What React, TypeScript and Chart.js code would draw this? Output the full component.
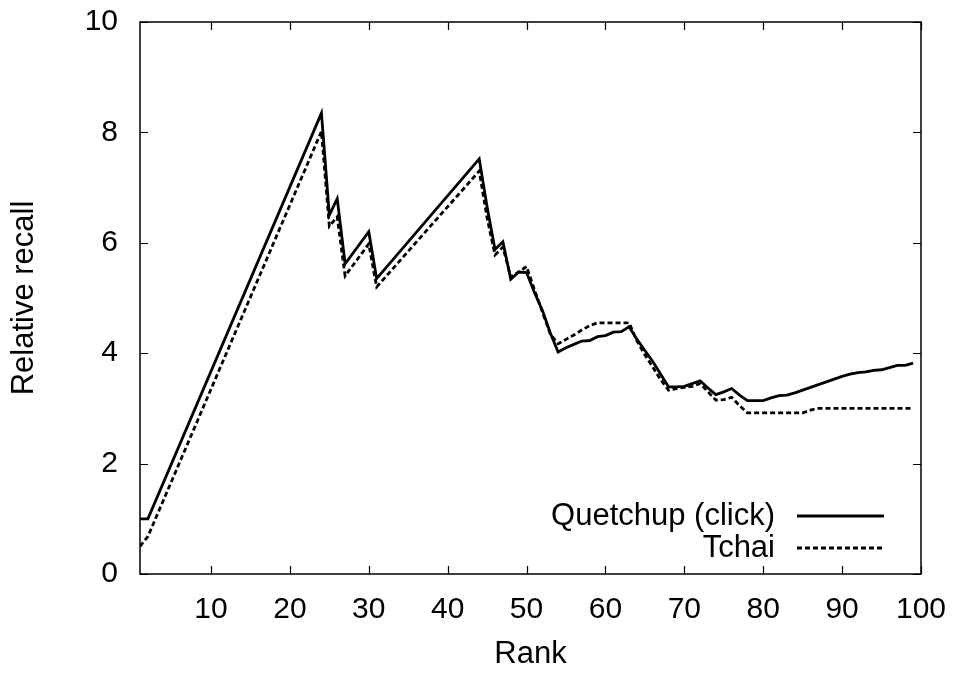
import { useEffect, useRef } from 'react';
import { Chart, registerables } from 'chart.js';

Chart.register(...registerables);

const quetchupRank = [1, 2, 24, 25, 26, 27, 30, 31, 44, 45, 46, 47, 48, 49, 50, 51, 52, 53, 54, 55, 56, 57, 58, 59, 60, 61, 62, 63, 64, 65, 66, 67, 68, 69, 70, 71, 72, 73, 74, 75, 76, 77, 78, 79, 80, 81, 82, 83, 84, 85, 86, 87, 88, 89, 90, 91, 92, 93, 94, 95, 96, 97, 98, 99];
const quetchupRecall = [1.0, 1.0, 8.35, 6.5, 6.8, 5.62, 6.2, 5.35, 7.52, 6.65, 5.88, 6.02, 5.34, 5.47, 5.46, 5.1, 4.78, 4.37, 4.02, 4.1, 4.16, 4.22, 4.23, 4.3, 4.32, 4.38, 4.39, 4.48, 4.25, 4.05, 3.85, 3.62, 3.39, 3.39, 3.4, 3.45, 3.5, 3.37, 3.25, 3.3, 3.36, 3.24, 3.14, 3.14, 3.14, 3.19, 3.23, 3.24, 3.28, 3.33, 3.38, 3.43, 3.48, 3.53, 3.58, 3.62, 3.65, 3.66, 3.69, 3.7, 3.74, 3.78, 3.78, 3.82];

const tchaiRank = [1, 2, 24, 25, 26, 27, 30, 31, 44, 45, 46, 47, 48, 49, 50, 51, 52, 53, 54, 55, 56, 57, 58, 59, 60, 61, 62, 63, 64, 65, 66, 67, 68, 69, 70, 71, 72, 73, 74, 75, 76, 77, 78, 85, 86, 87, 99];
const tchaiRecall = [0.5, 0.68, 8.02, 6.3, 6.47, 5.4, 5.98, 5.2, 7.3, 6.45, 5.78, 5.92, 5.38, 5.47, 5.57, 5.15, 4.75, 4.35, 4.17, 4.25, 4.33, 4.42, 4.5, 4.55, 4.55, 4.55, 4.55, 4.55, 4.22, 3.97, 3.75, 3.52, 3.33, 3.36, 3.38, 3.4, 3.45, 3.3, 3.15, 3.16, 3.2, 3.05, 2.92, 2.92, 2.97, 3.0, 3.0];

const xTicks = [10, 20, 30, 40, 50, 60, 70, 80, 90, 100];
const yTicks = [0, 2, 4, 6, 8, 10];

const seriesNames = ['Quetchup (click)', 'Tchai'];
const FONT = 'Arial, "Liberation Sans", Helvetica, sans-serif';
const TICK_FS = 30;
const TITLE_FS = 31;
const LEGEND_FS = 31;

const framePlugin = {
  id: 'frame',
  afterDatasetsDraw(chart: any) {
    const { ctx, chartArea: a, scales } = chart;
    ctx.save();
    ctx.strokeStyle = '#000';
    ctx.lineWidth = 1.5;
    ctx.strokeRect(a.left, a.top, a.right - a.left, a.bottom - a.top);
    const tl = 8;
    ctx.lineWidth = 1.2;
    ctx.beginPath();
    for (const v of xTicks) {
      const px = Math.round(scales.x.getPixelForValue(v)) + 0.5;
      ctx.moveTo(px, a.bottom);
      ctx.lineTo(px, a.bottom - tl);
      ctx.moveTo(px, a.top);
      ctx.lineTo(px, a.top + tl);
    }
    for (const v of yTicks) {
      const py = Math.round(scales.y.getPixelForValue(v)) + 0.5;
      ctx.moveTo(a.left, py);
      ctx.lineTo(a.left + tl, py);
      ctx.moveTo(a.right, py);
      ctx.lineTo(a.right - tl, py);
    }
    ctx.stroke();

    // legend (inside, bottom right)
    const rows = [a.bottom - 58, a.bottom - 26];
    const textRight = a.right - 146;
    const lineL = a.right - 124;
    const lineR = a.right - 37;
    ctx.font = `${LEGEND_FS}px ${FONT}`;
    ctx.fillStyle = '#000';
    ctx.textAlign = 'right';
    ctx.textBaseline = 'middle';
    chart.data.datasets.forEach((ds: any, i: number) => {
      const y = rows[i];
      ctx.fillText(seriesNames[i], textRight, y);
      ctx.beginPath();
      ctx.lineWidth = ds.borderWidth;
      ctx.setLineDash(ds.borderDash || []);
      ctx.moveTo(lineL, y);
      ctx.lineTo(lineR, y);
      ctx.stroke();
      ctx.setLineDash([]);
    });
    ctx.restore();
  },
};

export default function App() {
  const ref = useRef<HTMLCanvasElement | null>(null);
  useEffect(() => {
    if (!ref.current) return;
    const chart = new Chart(ref.current, {
      type: 'line',
      data: {
        datasets: [
          {
            label: seriesNames[0],
            data: quetchupRank.map((r, i) => ({ x: r, y: quetchupRecall[i] })),
            borderColor: '#000',
            borderWidth: 2.8,
            pointRadius: 0,
            tension: 0,
            fill: false,
          },
          {
            label: seriesNames[1],
            data: tchaiRank.map((r, i) => ({ x: r, y: tchaiRecall[i] })),
            borderColor: '#000',
            borderWidth: 2.8,
            borderDash: [5, 3],
            pointRadius: 0,
            tension: 0,
            fill: false,
          },
        ],
      },
      options: {
        animation: false,
        responsive: true,
        maintainAspectRatio: false,
        layout: { padding: { top: 22, right: 39, left: 0, bottom: 0 } },
        plugins: { legend: { display: false }, tooltip: { enabled: false } },
        scales: {
          x: {
            type: 'linear',
            min: 1,
            max: 100,
            afterBuildTicks: (s: any) => {
              s.ticks = xTicks.map((v) => ({ value: v }));
            },
            afterFit: (s: any) => {
              s.height = 101;
              s.paddingLeft = 0;
              s.paddingRight = 0;
            },
            grid: { display: false, drawTicks: false },
            border: { display: false },
            ticks: {
              padding: 18,
              color: '#000',
              font: { size: TICK_FS, family: FONT },
              maxRotation: 0,
              autoSkip: false,
            },
            title: {
              display: true,
              text: 'Rank',
              color: '#000',
              font: { size: TITLE_FS, family: FONT },
              padding: { top: 0, bottom: 2 },
            },
          },
          y: {
            type: 'linear',
            min: 0,
            max: 10,
            afterBuildTicks: (s: any) => {
              s.ticks = yTicks.map((v) => ({ value: v }));
            },
            afterFit: (s: any) => {
              s.width = 140;
              s.paddingTop = 0;
              s.paddingBottom = 0;
            },
            grid: { display: false, drawTicks: false },
            border: { display: false },
            ticks: {
              padding: 22,
              color: '#000',
              font: { size: TICK_FS, family: FONT },
            },
            title: {
              display: true,
              text: 'Relative recall',
              color: '#000',
              font: { size: TITLE_FS, family: FONT },
              padding: { top: 6, bottom: 0 },
            },
          },
        },
      },
      plugins: [framePlugin],
    });
    return () => chart.destroy();
  }, []);
  return (
    <div style={{ position: 'fixed', left: 0, top: 0, width: 960, height: 675, background: '#fff' }}>
      <canvas ref={ref} />
    </div>
  );
}
